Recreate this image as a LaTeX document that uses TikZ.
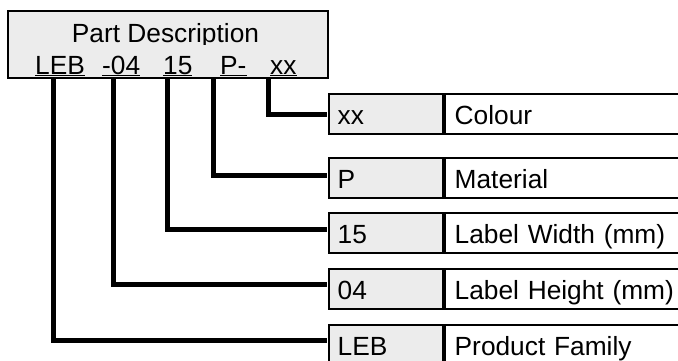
\documentclass[tikz,border=0pt]{standalone}
\usepackage{fontspec}
\setmainfont{Liberation Sans}
\definecolor{cellgray}{RGB}{236,236,236}
\newsavebox\ulsave
\newcommand\ulword[1]{\sbox\ulsave{#1}\rlap{\vrule height -0.7pt depth 1.7pt width \wd\ulsave}\usebox\ulsave}
\begin{document}
\begin{tikzpicture}[x=1pt,y=-1pt,
  every node/.style={font=\fontsize{26.3}{30}\selectfont},
  cell/.style={draw, line width=2pt, minimum height=40pt, text height=25pt, text depth=4pt, anchor=west, align=left, inner ysep=0pt},
  keycell/.style={cell, fill=cellgray, text width=96pt, inner xsep=9pt},
  valcell/.style={cell, fill=white, text width=240pt, inner xsep=10pt},
  conn/.style={line width=5pt, line join=miter, shorten >=1pt},
  code/.style={anchor=base west, inner sep=0pt}]
\useasboundingbox (0,0) rectangle (678,360);
\clip (0,0) rectangle (678,360);
% title box
\node[draw, fill=cellgray, line width=2pt, minimum width=320pt, minimum height=67pt, inner sep=0pt] (title) at (168,44.3) {};
\begin{scope}
  \clip (8,11) rectangle (328,44.3);
  \node[anchor=base, inner sep=0pt] (tt) at (165.5,42.7) {Part Description};
\end{scope}
\node[code] (c1) at (35,74.3) {\ulword{LEB}};
\node[code] (c2) at (102,74.3) {\ulword{-04}};
\node[code] (c3) at (163,74.3) {\ulword{15}};
\node[code] (c4) at (220,74.3) {\ulword{P-}};
\node[code] (c5) at (270,74.3) {\ulword{xx}};
% right table rows
\node[keycell] (k1) at (327.7,113.8) {xx};
\node[valcell] (v1) at (k1.east) {Colour};
\node[keycell] (k2) at (327.7,177.5) {P};
\node[valcell] (v2) at (k2.east) {Material};
\node[keycell] (k3) at (327.7,233) {15};
\node[valcell] (v3) at (k3.east) {Label Width (mm)};
\node[keycell] (k4) at (327.7,288.5) {04};
\node[valcell] (v4) at (k4.east) {Label Height (mm)};
\node[keycell] (k5) at (327.7,345) {LEB};
\node[valcell] (v5) at (k5.east) {Product Family};
% connectors
\coordinate (s1) at (53,78.8);
\coordinate (s2) at (113,78.8);
\coordinate (s3) at (167,78.8);
\coordinate (s4) at (213,78.8);
\coordinate (s5) at (268,78.8);
\draw[conn] (s5) |- ([yshift=-0.7pt]k1.west);
\draw[conn] (s4) |- ([yshift=2.5pt]k2.west);
\draw[conn] (s3) |- ([yshift=4pt]k3.west);
\draw[conn] (s2) |- ([yshift=4.5pt]k4.west);
\draw[conn] (s1) |- ([yshift=5pt]k5.west);
\end{tikzpicture}
\end{document}
